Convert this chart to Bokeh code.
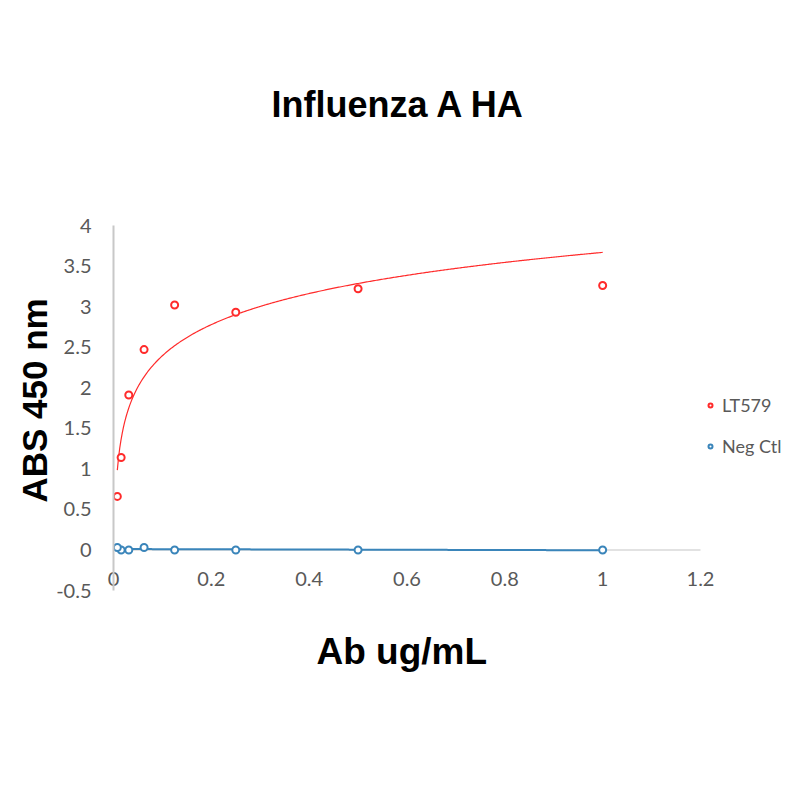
import numpy as np
from bokeh.plotting import figure
from bokeh.models import FixedTicker, Legend, LegendItem, Title
from bokeh.embed import file_html
from bokeh.resources import INLINE

# ---- data ----
conc = [1.0, 0.5, 0.25, 0.125, 0.0625, 0.03125, 0.015625, 0.0078125]
lt579 = [3.26, 3.22, 2.93, 3.02, 2.47, 1.91, 1.14, 0.66]
neg_ctl = [0.0, 0.0, 0.0, 0.0, 0.03, 0.0, 0.0, 0.03]

x_ticks = [0, 0.2, 0.4, 0.6, 0.8, 1.0, 1.2]
x_tick_labels = ["0", "0.2", "0.4", "0.6", "0.8", "1", "1.2"]
y_ticks = [-0.5, 0, 0.5, 1, 1.5, 2, 2.5, 3, 3.5, 4]
y_tick_labels = ["-0.5", "0", "0.5", "1", "1.5", "2", "2.5", "3", "3.5", "4"]

RED = "#FF2B2B"
BLUE = "#3A85BA"
GREY_TXT = "#595959"
TICK_FONT = "Lato"
BIG_FONT = "Liberation Sans"

W = 792
FRAME_L, FRAME_R_AXIS = 113, 700        # pixel span of the 0..1.2 axis
X_END = x_ticks[-1] * (W - FRAME_L) / (FRAME_R_AXIS - FRAME_L)  # frame runs to the canvas edge (legend room)

p = figure(width=W, height=792, x_range=(0, X_END), y_range=(-0.5, 4),
           output_backend="svg", toolbar_location=None,
           min_border_left=FRAME_L, min_border_right=0,
           min_border_top=225, min_border_bottom=202)
p.outline_line_color = None
p.grid.visible = False
p.background_fill_color = "white"
p.border_fill_color = "white"

# main title (outermost in the top panel) and a spacer under it
p.title.text = "Influenza A HA"
p.title.align = "left"
p.title.offset = 158
p.title.vertical_align = "bottom"
p.title.standoff = 0
p.title.text_font = BIG_FONT
p.title.text_font_size = "36px"
p.title.text_font_style = "bold"
p.title.text_color = "black"
p.add_layout(Title(text=" ", text_font_size="10px", standoff=88), "above")

# y axis (ticks)
ya = p.yaxis[0]
ya.ticker = FixedTicker(ticks=y_ticks)
ya.major_label_overrides = dict(zip(y_ticks, y_tick_labels))
ya.major_tick_line_color = None
ya.minor_tick_line_color = None
ya.major_tick_out = 0
ya.axis_line_color = "#C8C8C8"
ya.axis_line_width = 2
ya.major_label_text_font = TICK_FONT
ya.major_label_text_font_size = "20px"
ya.major_label_text_color = GREY_TXT
ya.major_label_standoff = 22
p.add_layout(Title(text="ABS 450 nm", align="left", offset=88, vertical_align="bottom",
                   standoff=0, text_font=BIG_FONT, text_font_size="35px",
                   text_font_style="bold", text_color="black"), "left")

# bottom axis: tick labels just inside the frame
xb = p.xaxis[0]
xb.ticker = FixedTicker(ticks=x_ticks)
xb.major_label_overrides = dict(zip(x_ticks, x_tick_labels))
xb.bounds = (x_ticks[0], x_ticks[-1])
xb.axis_line_color = None
xb.major_tick_line_color = None
xb.minor_tick_line_color = None
xb.major_tick_out = 0
xb.major_label_text_font = TICK_FONT
xb.major_label_text_font_size = "20px"
xb.major_label_text_color = GREY_TXT
xb.major_label_standoff = -19
p.add_layout(Title(text="Ab ug/mL", align="left", offset=203, vertical_align="top",
                   standoff=81, text_font=BIG_FONT, text_font_size="37px",
                   text_font_style="bold", text_color="black"), "below")

# horizontal axis line at y = 0
p.segment(x0=[x_ticks[0]], y0=[0], x1=[x_ticks[-1]], y1=[0],
          line_color="#D9D9D9", line_width=1.5)

# trendlines fitted from the data
xa_arr = np.array(conc)
a, b = np.polyfit(np.log(xa_arr), np.array(lt579), 1)
xs = np.linspace(xa_arr.min(), xa_arr.max(), 400)
p.line(xs, a * np.log(xs) + b, line_color=RED, line_width=1.2)
m, c = np.polyfit(xa_arr, np.array(neg_ctl), 1)
p.line(xs, m * xs + c, line_color=BLUE, line_width=2)

r1 = p.scatter(conc, lt579, size=7, marker="circle", line_color=RED,
               line_width=2, fill_color="white")
r2 = p.scatter(conc, neg_ctl, size=7, marker="circle", line_color=BLUE,
               line_width=2, fill_color="white")

legend = Legend(items=[LegendItem(label="LT579", renderers=[r1]),
                       LegendItem(label="Neg Ctl", renderers=[r2])],
                location=(592, 133), background_fill_alpha=0,
                border_line_color=None, label_text_font=TICK_FONT,
                label_text_font_size="18px", label_text_color=GREY_TXT,
                glyph_width=10, glyph_height=10, label_standoff=7,
                label_height=20, spacing=19, padding=0, margin=0)
p.add_layout(legend)

open("out.html", "w").write(file_html(p, INLINE))
